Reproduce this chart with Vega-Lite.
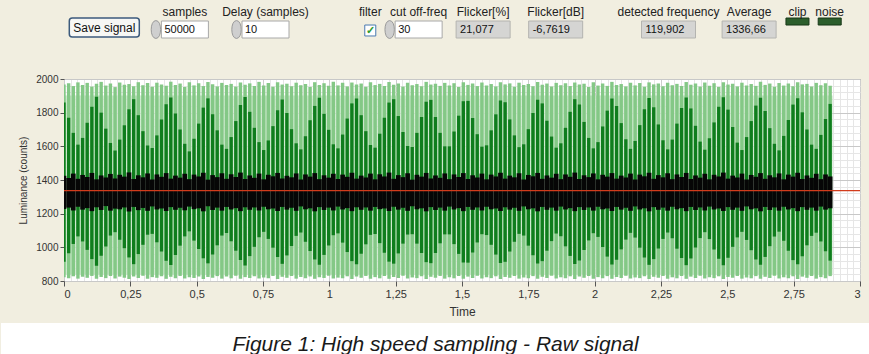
{
"$schema": "https://vega.github.io/schema/vega-lite/v6.json",
"background": "#f1eee0",
"padding": 0,
"config": {"view": {"stroke": null}, "font": "Liberation Sans"},
"datasets": {
"controls": [
{"name":"save","label":"","value":"Save signal","kind":"button"},
{"name":"samples","label":"samples","value":"50000","kind":"input"},
{"name":"delay","label":"Delay (samples)","value":"10","kind":"input"},
{"name":"filter","label":"filter","value":"✓","kind":"check"},
{"name":"cutoff","label":"cut off-freq","value":"30","kind":"input"},
{"name":"flickerPct","label":"Flicker[%]","value":"21,077","kind":"indicator"},
{"name":"flickerDb","label":"Flicker[dB]","value":"-6,7619","kind":"indicator"},
{"name":"freq","label":"detected frequency","value":"119,902","kind":"indicator"},
{"name":"average","label":"Average","value":"1336,66","kind":"indicator"},
{"name":"clip","label":"clip","value":"","kind":"led"},
{"name":"noise","label":"noise","value":"","kind":"led"}
],
"caption": [{"caption": "Figure 1: High speed sampling - Raw signal"}],
"signal": [
{"t":0,"hi":1968,"lo":822,"dhi":1860,"dlo":915,"bhi":1425,"blo":1228},
{"t":0.0175,"hi":1975,"lo":816,"dhi":1770,"dlo":965,"bhi":1412,"blo":1236},
{"t":0.035,"hi":1958,"lo":828,"dhi":1680,"dlo":1020,"bhi":1438,"blo":1219},
{"t":0.0525,"hi":1980,"lo":814,"dhi":1610,"dlo":1065,"bhi":1407,"blo":1241},
{"t":0.07,"hi":1964,"lo":825,"dhi":1650,"dlo":1035,"bhi":1430,"blo":1224},
{"t":0.0875,"hi":1977,"lo":819,"dhi":1740,"dlo":985,"bhi":1418,"blo":1233},
{"t":0.105,"hi":1955,"lo":830,"dhi":1835,"dlo":930,"bhi":1442,"blo":1215},
{"t":0.1225,"hi":1972,"lo":813,"dhi":1895,"dlo":890,"bhi":1404,"blo":1238},
{"t":0.14,"hi":1983,"lo":824,"dhi":1800,"dlo":950,"bhi":1427,"blo":1222},
{"t":0.1575,"hi":1961,"lo":817,"dhi":1705,"dlo":1005,"bhi":1415,"blo":1245},
{"t":0.175,"hi":1974,"lo":829,"dhi":1620,"dlo":1070,"bhi":1436,"blo":1218},
{"t":0.1925,"hi":1952,"lo":815,"dhi":1575,"dlo":1090,"bhi":1409,"blo":1230},
{"t":0.21,"hi":1979,"lo":826,"dhi":1640,"dlo":1045,"bhi":1431,"blo":1226},
{"t":0.2275,"hi":1966,"lo":820,"dhi":1725,"dlo":995,"bhi":1420,"blo":1237},
{"t":0.245,"hi":1970,"lo":812,"dhi":1820,"dlo":940,"bhi":1445,"blo":1213},
{"t":0.2625,"hi":1957,"lo":827,"dhi":1880,"dlo":900,"bhi":1406,"blo":1240},
{"t":0.28,"hi":1981,"lo":818,"dhi":1785,"dlo":960,"bhi":1428,"blo":1221},
{"t":0.2975,"hi":1963,"lo":831,"dhi":1690,"dlo":1015,"bhi":1416,"blo":1234},
{"t":0.315,"hi":1976,"lo":814,"dhi":1605,"dlo":1075,"bhi":1439,"blo":1217},
{"t":0.3325,"hi":1954,"lo":823,"dhi":1590,"dlo":1080,"bhi":1403,"blo":1243},
{"t":0.35,"hi":1978,"lo":819,"dhi":1665,"dlo":1030,"bhi":1433,"blo":1225},
{"t":0.3675,"hi":1967,"lo":828,"dhi":1760,"dlo":975,"bhi":1419,"blo":1231},
{"t":0.385,"hi":1960,"lo":813,"dhi":1850,"dlo":920,"bhi":1441,"blo":1216},
{"t":0.4025,"hi":1984,"lo":825,"dhi":1890,"dlo":895,"bhi":1408,"blo":1239},
{"t":0.42,"hi":1965,"lo":817,"dhi":1795,"dlo":955,"bhi":1426,"blo":1223},
{"t":0.4375,"hi":1973,"lo":830,"dhi":1700,"dlo":1010,"bhi":1414,"blo":1235},
{"t":0.455,"hi":1953,"lo":815,"dhi":1615,"dlo":1065,"bhi":1437,"blo":1220},
{"t":0.4725,"hi":1980,"lo":822,"dhi":1570,"dlo":1095,"bhi":1405,"blo":1242},
{"t":0.49,"hi":1962,"lo":818,"dhi":1645,"dlo":1040,"bhi":1432,"blo":1227},
{"t":0.5075,"hi":1975,"lo":827,"dhi":1735,"dlo":990,"bhi":1421,"blo":1232},
{"t":0.525,"hi":1958,"lo":812,"dhi":1830,"dlo":935,"bhi":1443,"blo":1214},
{"t":0.5425,"hi":1982,"lo":824,"dhi":1885,"dlo":905,"bhi":1402,"blo":1244},
{"t":0.56,"hi":1969,"lo":819,"dhi":1790,"dlo":958,"bhi":1429,"blo":1222},
{"t":0.5775,"hi":1956,"lo":829,"dhi":1695,"dlo":1012,"bhi":1417,"blo":1236},
{"t":0.595,"hi":1977,"lo":814,"dhi":1610,"dlo":1070,"bhi":1440,"blo":1218},
{"t":0.6125,"hi":1964,"lo":826,"dhi":1585,"dlo":1085,"bhi":1407,"blo":1240},
{"t":0.63,"hi":1971,"lo":816,"dhi":1655,"dlo":1036,"bhi":1434,"blo":1225},
{"t":0.6475,"hi":1955,"lo":831,"dhi":1750,"dlo":980,"bhi":1418,"blo":1233},
{"t":0.665,"hi":1979,"lo":813,"dhi":1845,"dlo":925,"bhi":1444,"blo":1215},
{"t":0.6825,"hi":1966,"lo":823,"dhi":1893,"dlo":892,"bhi":1406,"blo":1238},
{"t":0.7,"hi":1974,"lo":818,"dhi":1805,"dlo":948,"bhi":1427,"blo":1223},
{"t":0.7175,"hi":1959,"lo":828,"dhi":1710,"dlo":1003,"bhi":1413,"blo":1237},
{"t":0.735,"hi":1983,"lo":815,"dhi":1625,"dlo":1060,"bhi":1438,"blo":1219},
{"t":0.7525,"hi":1961,"lo":821,"dhi":1578,"dlo":1092,"bhi":1404,"blo":1241},
{"t":0.77,"hi":1976,"lo":817,"dhi":1635,"dlo":1050,"bhi":1431,"blo":1226},
{"t":0.7875,"hi":1954,"lo":830,"dhi":1720,"dlo":998,"bhi":1422,"blo":1231},
{"t":0.805,"hi":1980,"lo":812,"dhi":1815,"dlo":942,"bhi":1442,"blo":1216},
{"t":0.8225,"hi":1967,"lo":825,"dhi":1878,"dlo":902,"bhi":1409,"blo":1240},
{"t":0.84,"hi":1972,"lo":819,"dhi":1798,"dlo":952,"bhi":1425,"blo":1224},
{"t":0.8575,"hi":1957,"lo":829,"dhi":1702,"dlo":1008,"bhi":1416,"blo":1235},
{"t":0.875,"hi":1978,"lo":814,"dhi":1618,"dlo":1068,"bhi":1439,"blo":1217},
{"t":0.8925,"hi":1963,"lo":824,"dhi":1582,"dlo":1088,"bhi":1403,"blo":1243},
{"t":0.91,"hi":1970,"lo":816,"dhi":1660,"dlo":1033,"bhi":1433,"blo":1226},
{"t":0.9275,"hi":1953,"lo":827,"dhi":1755,"dlo":978,"bhi":1420,"blo":1232},
{"t":0.945,"hi":1981,"lo":813,"dhi":1840,"dlo":928,"bhi":1441,"blo":1214},
{"t":0.9625,"hi":1965,"lo":822,"dhi":1888,"dlo":897,"bhi":1405,"blo":1239},
{"t":0.98,"hi":1975,"lo":818,"dhi":1793,"dlo":955,"bhi":1428,"blo":1222},
{"t":0.9975,"hi":1960,"lo":831,"dhi":1698,"dlo":1011,"bhi":1414,"blo":1236},
{"t":1.015,"hi":1984,"lo":815,"dhi":1612,"dlo":1072,"bhi":1437,"blo":1219},
{"t":1.0325,"hi":1962,"lo":820,"dhi":1588,"dlo":1083,"bhi":1406,"blo":1242},
{"t":1.05,"hi":1977,"lo":817,"dhi":1670,"dlo":1028,"bhi":1432,"blo":1225},
{"t":1.0675,"hi":1956,"lo":828,"dhi":1765,"dlo":972,"bhi":1419,"blo":1233},
{"t":1.085,"hi":1979,"lo":812,"dhi":1855,"dlo":918,"bhi":1443,"blo":1215},
{"t":1.1025,"hi":1968,"lo":826,"dhi":1884,"dlo":899,"bhi":1408,"blo":1238},
{"t":1.12,"hi":1973,"lo":819,"dhi":1785,"dlo":962,"bhi":1426,"blo":1223},
{"t":1.1375,"hi":1954,"lo":830,"dhi":1690,"dlo":1018,"bhi":1415,"blo":1237},
{"t":1.155,"hi":1980,"lo":814,"dhi":1608,"dlo":1074,"bhi":1438,"blo":1218},
{"t":1.1725,"hi":1964,"lo":823,"dhi":1592,"dlo":1079,"bhi":1404,"blo":1240},
{"t":1.19,"hi":1971,"lo":816,"dhi":1675,"dlo":1025,"bhi":1434,"blo":1227},
{"t":1.2075,"hi":1958,"lo":829,"dhi":1770,"dlo":968,"bhi":1421,"blo":1231},
{"t":1.225,"hi":1982,"lo":813,"dhi":1860,"dlo":915,"bhi":1444,"blo":1216},
{"t":1.2425,"hi":1966,"lo":824,"dhi":1880,"dlo":903,"bhi":1407,"blo":1241},
{"t":1.26,"hi":1974,"lo":818,"dhi":1780,"dlo":964,"bhi":1429,"blo":1224},
{"t":1.2775,"hi":1955,"lo":831,"dhi":1685,"dlo":1022,"bhi":1417,"blo":1235},
{"t":1.295,"hi":1978,"lo":815,"dhi":1602,"dlo":1076,"bhi":1440,"blo":1217},
{"t":1.3125,"hi":1963,"lo":821,"dhi":1596,"dlo":1078,"bhi":1402,"blo":1244},
{"t":1.33,"hi":1970,"lo":817,"dhi":1680,"dlo":1022,"bhi":1431,"blo":1226},
{"t":1.3475,"hi":1957,"lo":828,"dhi":1775,"dlo":966,"bhi":1420,"blo":1232},
{"t":1.365,"hi":1983,"lo":812,"dhi":1865,"dlo":912,"bhi":1442,"blo":1214},
{"t":1.3825,"hi":1967,"lo":825,"dhi":1876,"dlo":906,"bhi":1409,"blo":1239},
{"t":1.4,"hi":1972,"lo":819,"dhi":1775,"dlo":967,"bhi":1427,"blo":1222},
{"t":1.4175,"hi":1959,"lo":830,"dhi":1680,"dlo":1024,"bhi":1413,"blo":1236},
{"t":1.435,"hi":1977,"lo":814,"dhi":1600,"dlo":1077,"bhi":1439,"blo":1218},
{"t":1.4525,"hi":1961,"lo":822,"dhi":1600,"dlo":1077,"bhi":1405,"blo":1242},
{"t":1.47,"hi":1975,"lo":816,"dhi":1688,"dlo":1019,"bhi":1433,"blo":1225},
{"t":1.4875,"hi":1953,"lo":829,"dhi":1782,"dlo":961,"bhi":1418,"blo":1233},
{"t":1.505,"hi":1981,"lo":813,"dhi":1868,"dlo":910,"bhi":1441,"blo":1215},
{"t":1.5225,"hi":1965,"lo":826,"dhi":1870,"dlo":909,"bhi":1406,"blo":1240},
{"t":1.54,"hi":1973,"lo":818,"dhi":1768,"dlo":970,"bhi":1428,"blo":1223},
{"t":1.5575,"hi":1958,"lo":831,"dhi":1672,"dlo":1029,"bhi":1415,"blo":1237},
{"t":1.575,"hi":1979,"lo":815,"dhi":1598,"dlo":1078,"bhi":1438,"blo":1219},
{"t":1.5925,"hi":1962,"lo":823,"dhi":1606,"dlo":1073,"bhi":1404,"blo":1241},
{"t":1.61,"hi":1970,"lo":817,"dhi":1695,"dlo":1015,"bhi":1432,"blo":1226},
{"t":1.6275,"hi":1956,"lo":828,"dhi":1790,"dlo":957,"bhi":1421,"blo":1231},
{"t":1.645,"hi":1980,"lo":812,"dhi":1872,"dlo":907,"bhi":1443,"blo":1216},
{"t":1.6625,"hi":1968,"lo":824,"dhi":1862,"dlo":914,"bhi":1408,"blo":1238},
{"t":1.68,"hi":1974,"lo":819,"dhi":1760,"dlo":975,"bhi":1426,"blo":1224},
{"t":1.6975,"hi":1954,"lo":830,"dhi":1665,"dlo":1033,"bhi":1416,"blo":1235},
{"t":1.715,"hi":1978,"lo":814,"dhi":1595,"dlo":1080,"bhi":1440,"blo":1217},
{"t":1.7325,"hi":1964,"lo":821,"dhi":1612,"dlo":1070,"bhi":1403,"blo":1243},
{"t":1.75,"hi":1971,"lo":816,"dhi":1702,"dlo":1010,"bhi":1430,"blo":1226},
{"t":1.7675,"hi":1957,"lo":829,"dhi":1798,"dlo":953,"bhi":1422,"blo":1232},
{"t":1.785,"hi":1982,"lo":813,"dhi":1876,"dlo":904,"bhi":1442,"blo":1214},
{"t":1.8025,"hi":1966,"lo":825,"dhi":1855,"dlo":918,"bhi":1407,"blo":1240},
{"t":1.82,"hi":1973,"lo":818,"dhi":1752,"dlo":980,"bhi":1427,"blo":1223},
{"t":1.8375,"hi":1955,"lo":831,"dhi":1658,"dlo":1037,"bhi":1414,"blo":1236},
{"t":1.855,"hi":1977,"lo":815,"dhi":1592,"dlo":1082,"bhi":1437,"blo":1218},
{"t":1.8725,"hi":1963,"lo":822,"dhi":1618,"dlo":1066,"bhi":1405,"blo":1242},
{"t":1.89,"hi":1975,"lo":817,"dhi":1710,"dlo":1006,"bhi":1433,"blo":1225},
{"t":1.9075,"hi":1958,"lo":828,"dhi":1805,"dlo":949,"bhi":1419,"blo":1233},
{"t":1.925,"hi":1979,"lo":812,"dhi":1880,"dlo":901,"bhi":1444,"blo":1215},
{"t":1.9425,"hi":1967,"lo":826,"dhi":1848,"dlo":922,"bhi":1406,"blo":1239},
{"t":1.96,"hi":1972,"lo":819,"dhi":1745,"dlo":984,"bhi":1428,"blo":1222},
{"t":1.9775,"hi":1953,"lo":830,"dhi":1650,"dlo":1041,"bhi":1417,"blo":1237},
{"t":1.995,"hi":1981,"lo":814,"dhi":1588,"dlo":1084,"bhi":1439,"blo":1218},
{"t":2.0125,"hi":1961,"lo":823,"dhi":1625,"dlo":1062,"bhi":1404,"blo":1241},
{"t":2.03,"hi":1974,"lo":816,"dhi":1718,"dlo":1002,"bhi":1431,"blo":1226},
{"t":2.0475,"hi":1959,"lo":829,"dhi":1812,"dlo":945,"bhi":1420,"blo":1231},
{"t":2.065,"hi":1983,"lo":813,"dhi":1884,"dlo":898,"bhi":1441,"blo":1216},
{"t":2.0825,"hi":1965,"lo":824,"dhi":1840,"dlo":926,"bhi":1408,"blo":1240},
{"t":2.1,"hi":1970,"lo":818,"dhi":1738,"dlo":988,"bhi":1426,"blo":1224},
{"t":2.1175,"hi":1956,"lo":831,"dhi":1642,"dlo":1046,"bhi":1415,"blo":1235},
{"t":2.135,"hi":1978,"lo":815,"dhi":1585,"dlo":1086,"bhi":1438,"blo":1217},
{"t":2.1525,"hi":1962,"lo":821,"dhi":1632,"dlo":1058,"bhi":1403,"blo":1243},
{"t":2.17,"hi":1976,"lo":817,"dhi":1726,"dlo":998,"bhi":1432,"blo":1225},
{"t":2.1875,"hi":1954,"lo":828,"dhi":1820,"dlo":940,"bhi":1422,"blo":1232},
{"t":2.205,"hi":1980,"lo":812,"dhi":1887,"dlo":896,"bhi":1443,"blo":1214},
{"t":2.2225,"hi":1968,"lo":825,"dhi":1832,"dlo":930,"bhi":1407,"blo":1239},
{"t":2.24,"hi":1973,"lo":819,"dhi":1730,"dlo":993,"bhi":1429,"blo":1223},
{"t":2.2575,"hi":1957,"lo":830,"dhi":1636,"dlo":1050,"bhi":1416,"blo":1236},
{"t":2.275,"hi":1977,"lo":814,"dhi":1582,"dlo":1088,"bhi":1440,"blo":1218},
{"t":2.2925,"hi":1963,"lo":822,"dhi":1640,"dlo":1054,"bhi":1405,"blo":1241},
{"t":2.31,"hi":1971,"lo":816,"dhi":1735,"dlo":992,"bhi":1433,"blo":1226},
{"t":2.3275,"hi":1958,"lo":829,"dhi":1828,"dlo":936,"bhi":1418,"blo":1233},
{"t":2.345,"hi":1982,"lo":813,"dhi":1890,"dlo":894,"bhi":1442,"blo":1215},
{"t":2.3625,"hi":1966,"lo":826,"dhi":1825,"dlo":934,"bhi":1406,"blo":1240},
{"t":2.38,"hi":1974,"lo":818,"dhi":1722,"dlo":999,"bhi":1427,"blo":1222},
{"t":2.3975,"hi":1955,"lo":831,"dhi":1628,"dlo":1055,"bhi":1414,"blo":1237},
{"t":2.415,"hi":1979,"lo":815,"dhi":1580,"dlo":1090,"bhi":1437,"blo":1219},
{"t":2.4325,"hi":1960,"lo":823,"dhi":1648,"dlo":1049,"bhi":1404,"blo":1242},
{"t":2.45,"hi":1975,"lo":817,"dhi":1742,"dlo":987,"bhi":1431,"blo":1225},
{"t":2.4675,"hi":1953,"lo":828,"dhi":1835,"dlo":932,"bhi":1421,"blo":1231},
{"t":2.485,"hi":1981,"lo":812,"dhi":1892,"dlo":893,"bhi":1444,"blo":1216},
{"t":2.5025,"hi":1967,"lo":824,"dhi":1818,"dlo":938,"bhi":1408,"blo":1239},
{"t":2.52,"hi":1972,"lo":819,"dhi":1715,"dlo":1003,"bhi":1426,"blo":1223},
{"t":2.5375,"hi":1956,"lo":830,"dhi":1622,"dlo":1059,"bhi":1415,"blo":1236},
{"t":2.555,"hi":1978,"lo":814,"dhi":1578,"dlo":1092,"bhi":1438,"blo":1217},
{"t":2.5725,"hi":1962,"lo":821,"dhi":1655,"dlo":1044,"bhi":1403,"blo":1243},
{"t":2.59,"hi":1970,"lo":816,"dhi":1750,"dlo":983,"bhi":1430,"blo":1226},
{"t":2.6075,"hi":1959,"lo":829,"dhi":1842,"dlo":928,"bhi":1419,"blo":1232},
{"t":2.625,"hi":1983,"lo":813,"dhi":1888,"dlo":896,"bhi":1441,"blo":1214},
{"t":2.6425,"hi":1965,"lo":825,"dhi":1810,"dlo":943,"bhi":1407,"blo":1240},
{"t":2.66,"hi":1973,"lo":818,"dhi":1708,"dlo":1007,"bhi":1428,"blo":1222},
{"t":2.6775,"hi":1954,"lo":831,"dhi":1615,"dlo":1064,"bhi":1416,"blo":1237},
{"t":2.695,"hi":1976,"lo":815,"dhi":1576,"dlo":1093,"bhi":1439,"blo":1218},
{"t":2.7125,"hi":1961,"lo":822,"dhi":1662,"dlo":1039,"bhi":1404,"blo":1241},
{"t":2.73,"hi":1974,"lo":817,"dhi":1757,"dlo":979,"bhi":1432,"blo":1225},
{"t":2.7475,"hi":1957,"lo":828,"dhi":1848,"dlo":924,"bhi":1420,"blo":1233},
{"t":2.765,"hi":1980,"lo":812,"dhi":1885,"dlo":899,"bhi":1443,"blo":1215},
{"t":2.7825,"hi":1968,"lo":826,"dhi":1802,"dlo":947,"bhi":1406,"blo":1239},
{"t":2.8,"hi":1971,"lo":819,"dhi":1700,"dlo":1012,"bhi":1427,"blo":1223},
{"t":2.8175,"hi":1955,"lo":830,"dhi":1610,"dlo":1068,"bhi":1413,"blo":1236},
{"t":2.835,"hi":1977,"lo":814,"dhi":1585,"dlo":1087,"bhi":1437,"blo":1218},
{"t":2.8525,"hi":1963,"lo":823,"dhi":1668,"dlo":1035,"bhi":1405,"blo":1242},
{"t":2.87,"hi":1975,"lo":816,"dhi":1762,"dlo":976,"bhi":1433,"blo":1224},
{"t":2.8875,"hi":1960,"lo":829,"dhi":1852,"dlo":921,"bhi":1421,"blo":1232}
]
},
"columns": 1,
"align": "none",
"spacing": 5,
"concat": [
{
"width": 806, "height": 68,
"data": {"name": "controls"},
"encoding": {
"x": {"field": "name", "type": "nominal", "axis": null,
"scale": {"type": "point", "padding": 0, "domain": ["_0","_1","_2","_3","_4","save","_6","_7","_8","_9","_10","_11","_12","_13","_14","samples","_16","_17","_18","_19","_20","_21","_22","_23","_24","delay","_26","_27","_28","_29","_30","_31","_32","_33","_34","_35","_36","_37","filter","_39","_40","_41","_42","_43","cutoff","_45","_46","_47","_48","_49","_50","_51","flickerPct","_53","_54","_55","_56","_57","_58","_59","_60","flickerDb","_62","_63","_64","_65","_66","_67","_68","_69","_70","_71","_72","_73","_74","freq","_76","_77","_78","_79","_80","_81","_82","_83","_84","average","_86","_87","_88","_89","_90","clip","_92","_93","_94","noise","_96","_97","_98","_99","_100"]}}
},
"layer": [
{"transform": [{"filter": "datum.kind == 'input'"}],
 "mark": {"type": "rect", "width": 47, "fill": "#ffffff", "stroke": "#a8a8a8", "strokeWidth": 1},
 "encoding": {"y": {"datum": 0.691, "type": "quantitative", "scale": {"domain": [0, 1]}, "axis": null}, "y2": {"datum": 0.441}}},
{"transform": [{"filter": "datum.kind == 'indicator'"}],
 "mark": {"type": "rect", "width": 54, "fill": "#d5d5d3", "stroke": "#b4b4b0", "strokeWidth": 1},
 "encoding": {"y": {"datum": 0.691, "type": "quantitative", "axis": null}, "y2": {"datum": 0.441}}},
{"transform": [{"filter": "datum.kind == 'button'"}],
 "mark": {"type": "rect", "width": 70, "fill": "#f7f7f4", "stroke": "#3c5a7c", "strokeWidth": 1.5, "cornerRadius": 3},
 "encoding": {"y": {"datum": 0.735, "type": "quantitative", "axis": null}, "y2": {"datum": 0.456}}},
{"transform": [{"filter": "datum.kind == 'check'"}],
 "mark": {"type": "rect", "width": 11, "fill": "#ffffff", "stroke": "#4a7ab0", "strokeWidth": 1},
 "encoding": {"y": {"datum": 0.632, "type": "quantitative", "axis": null}, "y2": {"datum": 0.471}}},
{"transform": [{"filter": "datum.kind == 'led'"}],
 "mark": {"type": "rect", "width": 23, "fill": "#2c5e2c", "stroke": "#183818", "strokeWidth": 1},
 "encoding": {"y": {"datum": 0.735, "type": "quantitative", "axis": null}, "y2": {"datum": 0.632}}},
{"transform": [{"filter": "datum.kind == 'input'"}],
 "mark": {"type": "point", "filled": true, "shape": "M0,-1C0.7,-1 0.7,1 0,1C-0.7,1 -0.7,-1 0,-1Z", "size": 320, "fill": "#cfcfcf", "stroke": "#9a9a9a", "strokeWidth": 1, "opacity": 1, "xOffset": -29},
 "encoding": {"y": {"datum": 0.566, "type": "quantitative", "axis": null}}},
{"transform": [{"filter": "datum.label != ''"}],
 "mark": {"type": "text", "align": "center", "baseline": "middle", "fontSize": 12, "color": "#222222"},
 "encoding": {"text": {"field": "label"}, "y": {"datum": 0.8235, "type": "quantitative", "axis": null}}},
{"transform": [{"filter": "datum.kind == 'input'"}],
 "mark": {"type": "text", "align": "left", "baseline": "middle", "fontSize": 11, "dx": -20.5, "color": "#111111"},
 "encoding": {"text": {"field": "value"}, "y": {"datum": 0.566, "type": "quantitative", "axis": null}}},
{"transform": [{"filter": "datum.kind == 'indicator'"}],
 "mark": {"type": "text", "align": "left", "baseline": "middle", "fontSize": 11, "dx": -23, "color": "#111111"},
 "encoding": {"text": {"field": "value"}, "y": {"datum": 0.566, "type": "quantitative", "axis": null}}},
{"transform": [{"filter": "datum.kind == 'button'"}],
 "mark": {"type": "text", "align": "center", "baseline": "middle", "fontSize": 12, "color": "#111111"},
 "encoding": {"text": {"field": "value"}, "y": {"datum": 0.588, "type": "quantitative", "axis": null}}},
{"transform": [{"filter": "datum.kind == 'check'"}],
 "mark": {"type": "text", "align": "center", "baseline": "middle", "fontSize": 11, "fontWeight": "bold", "color": "#2f9a2f"},
 "encoding": {"text": {"field": "value"}, "y": {"datum": 0.551, "type": "quantitative", "axis": null}}}
]
},
{
"width": 796, "height": 202,
"view": {"fill": "#ffffff", "stroke": "#8a8a8a"},
"data": {"name": "signal"},
"resolve": {"axis": {"x": "independent", "y": "independent"}},
"layer": [
{"mark": {"type": "rule", "strokeWidth": 4.7, "color": "#c6e6c6", "clip": true},
 "encoding": {"x": {"field": "t", "type": "quantitative", "axis": null}, "y": {"datum": 838, "type": "quantitative", "axis": null}, "y2": {"datum": 1902}}},
{"mark": {"type": "rule", "strokeWidth": 3.4, "color": "#84c886", "clip": true},
 "encoding": {
 "x": {"field": "t", "type": "quantitative", "scale": {"domain": [0, 3], "nice": false, "zero": false},
  "axis": {"title": "Time", "values": [0,0.025,0.05,0.075,0.1,0.125,0.15,0.175,0.2,0.225,0.25,0.275,0.3,0.325,0.35,0.375,0.4,0.425,0.45,0.475,0.5,0.525,0.55,0.575,0.6,0.625,0.65,0.675,0.7,0.725,0.75,0.775,0.8,0.825,0.85,0.875,0.9,0.925,0.95,0.975,1,1.025,1.05,1.075,1.1,1.125,1.15,1.175,1.2,1.225,1.25,1.275,1.3,1.325,1.35,1.375,1.4,1.425,1.45,1.475,1.5,1.525,1.55,1.575,1.6,1.625,1.65,1.675,1.7,1.725,1.75,1.775,1.8,1.825,1.85,1.875,1.9,1.925,1.95,1.975,2,2.025,2.05,2.075,2.1,2.125,2.15,2.175,2.2,2.225,2.25,2.275,2.3,2.325,2.35,2.375,2.4,2.425,2.45,2.475,2.5,2.525,2.55,2.575,2.6,2.625,2.65,2.675,2.7,2.725,2.75,2.775,2.8,2.825,2.85,2.875,2.9,2.925,2.95,2.975,3],
  "labelExpr": "abs(datum.value*4 - round(datum.value*4)) < 0.001 ? replace('' + datum.value, '.', ',') : ''",
  "labelOverlap": false, "labelFontSize": 11, "labelColor": "#333333", "labelPadding": 2,
  "grid": true, "gridColor": {"condition": {"test": "abs(datum.value*4 - round(datum.value*4)) < 0.001", "value": "#cdcdcd"}, "value": "#e6e6e6"},
  "tickOpacity": {"condition": {"test": "abs(datum.value*4 - round(datum.value*4)) < 0.001", "value": 1}, "value": 0},
  "tickSize": 5, "tickColor": "#555555", "domain": false,
  "titleFontSize": 12, "titleFontWeight": "normal", "titleColor": "#333333", "titlePadding": 7}},
 "y": {"field": "lo", "type": "quantitative", "scale": {"domain": [800, 2000], "nice": false, "zero": false},
  "axis": {"title": ["", "Luminance (counts)"], "titleLineHeight": 15, "values": [800,840,880,920,960,1000,1040,1080,1120,1160,1200,1240,1280,1320,1360,1400,1440,1480,1520,1560,1600,1640,1680,1720,1760,1800,1840,1880,1920,1960,2000],
  "format": "d", "labelExpr": "datum.value % 200 == 0 ? datum.label : ''",
  "labelOverlap": false, "labelFontSize": 10, "labelColor": "#333333", "labelPadding": 2,
  "grid": true, "gridColor": {"condition": {"test": "datum.value % 200 == 0", "value": "#c8c8c8"}, "value": "#e6e6e6"},
  "tickOpacity": {"condition": {"test": "datum.value % 200 == 0", "value": 1}, "value": 0},
  "tickSize": 4, "tickColor": "#555555", "domain": false,
  "titleFontSize": 10, "titleFontWeight": "normal", "titleColor": "#333333", "titlePadding": 7}},
 "y2": {"field": "hi"}}},
{"mark": {"type": "rule", "strokeWidth": 3.3, "color": "#0f7d1d", "clip": true},
 "encoding": {"x": {"field": "t", "type": "quantitative", "axis": null}, "y": {"field": "dlo", "type": "quantitative", "axis": null}, "y2": {"field": "dhi"}}},
{"mark": {"type": "rule", "strokeWidth": 4.7, "color": "#060606", "clip": true},
 "encoding": {"x": {"field": "t", "type": "quantitative", "axis": null}, "y": {"field": "blo", "type": "quantitative", "axis": null}, "y2": {"field": "bhi"}}},
{"data": {"values": [{"avg": 1336.66}]},
 "mark": {"type": "rule", "strokeWidth": 1.2, "color": "#d23c1c"},
 "encoding": {"y": {"field": "avg", "type": "quantitative", "axis": null}}}
]
},
{
"width": 806, "height": 32,
"data": {"name": "caption"},
"layer": [
{"mark": {"type": "rect", "fill": "#ffffff", "clip": false},
 "encoding": {
 "x": {"datum": -0.0782, "type": "quantitative", "scale": {"domain": [0, 1]}, "axis": null},
 "x2": {"datum": 1},
 "y": {"datum": 0, "type": "quantitative", "scale": {"domain": [0, 1]}, "axis": null},
 "y2": {"datum": 1}}},
{"mark": {"type": "text", "align": "center", "baseline": "middle", "fontSize": 21, "fontStyle": "italic", "font": "Liberation Sans", "color": "#1a1a1a"},
 "encoding": {
 "text": {"field": "caption"},
 "x": {"datum": 0.4609, "type": "quantitative", "axis": null},
 "y": {"datum": 0.3125, "type": "quantitative", "axis": null}}}
]
}
]
}
